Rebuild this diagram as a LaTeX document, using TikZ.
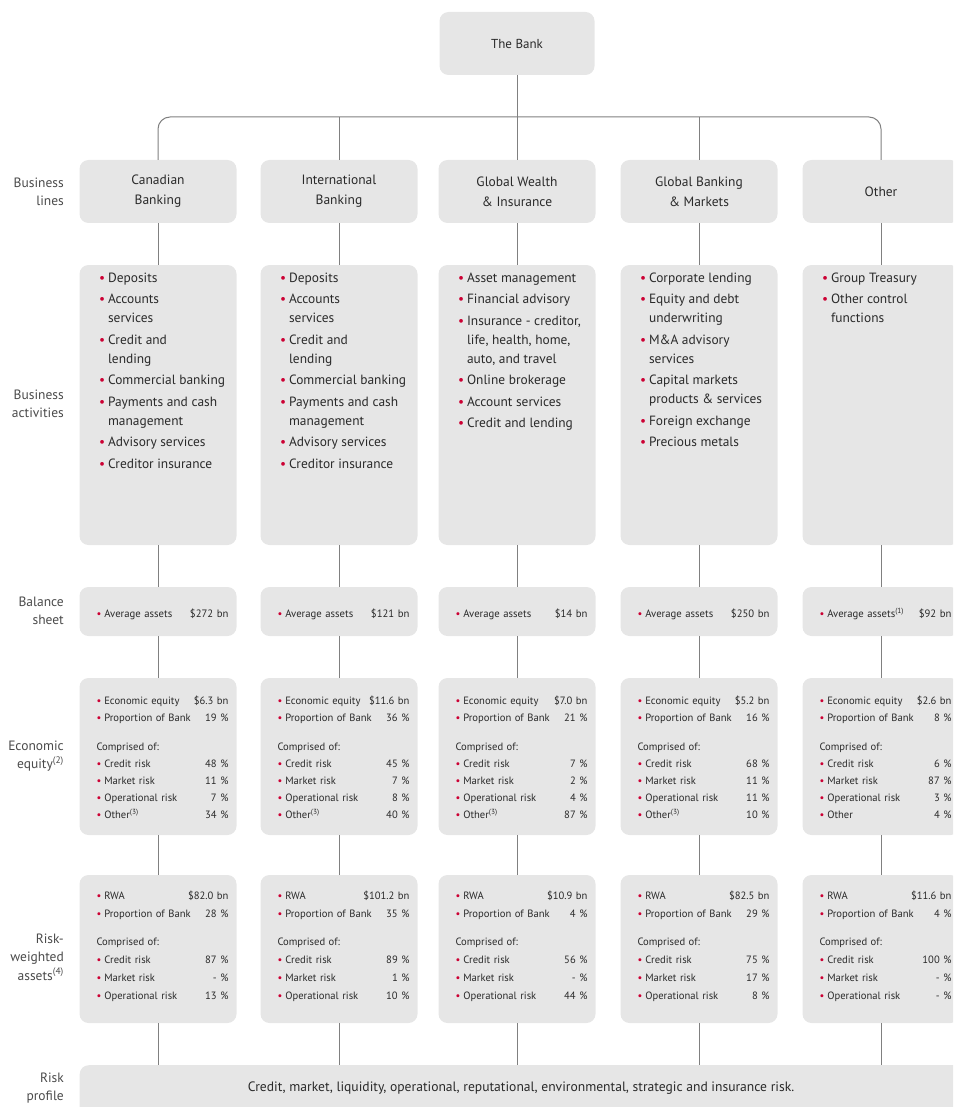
\documentclass[tikz,border=0pt]{standalone}
\usepackage{fontspec}
\setmainfont{PT Sans}
\usetikzlibrary{positioning}
\definecolor{boxgray}{HTML}{E6E6E6}
\definecolor{linegray}{HTML}{808080}
\definecolor{bankred}{HTML}{CC0033}
\definecolor{txtgray}{HTML}{2A2A2A}
\definecolor{lblgray}{HTML}{4A4A4A}
\newcommand{\bul}{{\color{bankred}\textbullet}}
\newcommand{\rw}[2]{\par\hbox to 132pt{\strut\bul\hspace{3pt}#1\hfill#2}}
\newcommand{\cmpof}[1]{\par\vskip#1\hbox{\strut Comprised of:}}
\newcommand{\cbacts}{\begin{tabular}{@{}l@{\hspace{3pt}}l@{}}
  \bul & Deposits\\[2.5pt]
  \bul & Accounts\\ & services\\[2.5pt]
  \bul & Credit and\\ & lending\\[2.5pt]
  \bul & Commercial banking\\[2.5pt]
  \bul & Payments and cash\\ & management\\[2.5pt]
  \bul & Advisory services\\[2.5pt]
  \bul & Creditor insurance
\end{tabular}}
\tikzset{
  gbox/.style={fill=boxgray,rounded corners=9pt,minimum width=157pt,inner sep=0pt,text=txtgray},
  conn/.style={draw=linegray,line width=1pt},
  sidelbl/.style={anchor=east,align=right,inner sep=0pt,text=lblgray,font=\fontsize{13.5}{18.5}\selectfont},
  acttxt/.style={anchor=north west,inner sep=0pt,text=txtgray,font=\fontsize{13.4}{19}\selectfont},
  figtxt/.style={anchor=north west,inner sep=0pt,text=txtgray,text width=132pt}
}
\begin{document}
\begin{tikzpicture}[x=1pt,y=-1pt]
  \useasboundingbox (0,0) rectangle (953,1107);
  \clip (0,0) rectangle (953,1107);
  % the bank and the business lines
  \node[gbox,minimum width=155pt,minimum height=63pt,font=\fontsize{13}{20}\selectfont] (bank) at (517,43.5) {The Bank};
  \foreach \col/\x/\t in {ca/158/Canadian\\Banking, in/339/International\\Banking,
      gw/517/Global Wealth\\\& Insurance, gb/699/Global Banking\\\& Markets, ot/881/Other}
    \node[gbox,minimum height=63pt,align=center,font=\fontsize{13.5}{20}\selectfont] (\col-line) at (\x,191.5) {\t};
  % empty boxes of each column
  \foreach \col/\x in {ca/158,in/339,gw/517,gb/699,ot/881}{
    \node[gbox,minimum height=280pt] (\col-act) at (\x,405) {};
    \node[gbox,minimum height=49pt] (\col-bal) at (\x,611.5) {};
    \node[gbox,minimum height=157pt] (\col-ee) at (\x,756.5) {};
    \node[gbox,minimum height=148pt] (\col-rwa) at (\x,949) {};}
  \node[gbox,anchor=north west,minimum width=890pt,minimum height=60pt] (risk) at (79.5,1065) {};
  \node[text=txtgray,font=\fontsize{13.6}{16}\selectfont] (risk-txt) at (521,1088)
    {Credit, market, liquidity, operational, reputational, environmental, strategic and insurance risk.};
  % business activities
  \node[acttxt] (ca-acttxt) at ([shift={(19.5,4)}]ca-act.north west) {\cbacts};
  \node[acttxt] (in-acttxt) at ([shift={(19.5,4)}]in-act.north west) {\cbacts};
  \node[acttxt] (gw-acttxt) at ([shift={(19.5,4)}]gw-act.north west) {\begin{tabular}{@{}l@{\hspace{3pt}}l@{}}
    \bul & Asset management\\[2.5pt]
    \bul & Financial advisory\\[2.5pt]
    \bul & Insurance - creditor,\\ & life, health, home,\\ & auto, and travel\\[2.5pt]
    \bul & Online brokerage\\[2.5pt]
    \bul & Account services\\[2.5pt]
    \bul & Credit and lending
  \end{tabular}};
  \node[acttxt] (gb-acttxt) at ([shift={(19.5,4)}]gb-act.north west) {\begin{tabular}{@{}l@{\hspace{3pt}}l@{}}
    \bul & Corporate lending\\[2.5pt]
    \bul & Equity and debt\\ & underwriting\\[2.5pt]
    \bul & M\&A advisory\\ & services\\[2.5pt]
    \bul & Capital markets\\ & products \& services\\[2.5pt]
    \bul & Foreign exchange\\[2.5pt]
    \bul & Precious metals
  \end{tabular}};
  \node[acttxt] (ot-acttxt) at ([shift={(19.5,4)}]ot-act.north west) {\begin{tabular}{@{}l@{\hspace{3pt}}l@{}}
    \bul & Group Treasury\\[2.5pt]
    \bul & Other control\\ & functions
  \end{tabular}};
  % balance sheet
  \foreach \col/\lab/\val in {ca/Average assets/272, in/Average assets/121, gw/Average assets/14,
      gb/Average assets/250, ot/Average assets\textsuperscript{(1)}/92}
    \node[figtxt,anchor=center,font=\fontsize{10.7}{17}\selectfont] (\col-baltxt) at ([xshift=4.5pt]\col-bal) {\rw{\lab}{\$\val{} bn}};
  % economic equity
  \foreach \col/\eqy/\pr/\crd/\mkt/\opr/\oth/\othv in {
      ca/6.3/19/48/11/7/Other\textsuperscript{(3)}/34,
      in/11.6/36/45/7/8/Other\textsuperscript{(3)}/40,
      gw/7.0/21/7/2/4/Other\textsuperscript{(3)}/87,
      gb/5.2/16/68/11/11/Other\textsuperscript{(3)}/10,
      ot/2.6/8/6/87/3/Other/4}
    \node[figtxt,font=\fontsize{10.6}{17}\selectfont] (\col-eetxt) at ([shift={(17,9)}]\col-ee.north west)
      {\rw{Economic equity}{\$\eqy{} bn}\rw{Proportion of Bank}{\pr~\%}\cmpof{12pt}%
       \rw{Credit risk}{\crd~\%}\rw{Market risk}{\mkt~\%}\rw{Operational risk}{\opr~\%}\rw{\oth}{\othv~\%}};
  % risk-weighted assets
  \foreach \col/\rwa/\pr/\crd/\mkt/\opr in {ca/82.0/28/87/-/13, in/101.2/35/89/1/10,
      gw/10.9/4/56/-/44, gb/82.5/29/75/17/8, ot/11.6/4/100/-/-}
    \node[figtxt,font=\fontsize{10.6}{18}\selectfont] (\col-rwatxt) at ([shift={(17,6.5)}]\col-rwa.north west)
      {\rw{RWA}{\$\rwa{} bn}\rw{Proportion of Bank}{\pr~\%}\cmpof{10pt}%
       \rw{Credit risk}{\crd~\%}\rw{Market risk}{\mkt~\%}\rw{Operational risk}{\opr~\%}};
  % row labels
  \node[sidelbl] (lbl-line) at (64,192) {Business\\lines};
  \node[sidelbl] (lbl-act) at (64,404) {Business\\activities};
  \node[sidelbl] (lbl-bal) at (64,611) {Balance\\sheet};
  \node[sidelbl] (lbl-ee) at (64,756) {Economic\\equity\textsuperscript{(2)}};
  \node[sidelbl] (lbl-rwa) at (64,957) {Risk-\\weighted\\assets\textsuperscript{(4)}};
  \node[sidelbl] (lbl-risk) at (64,1088) {Risk\\profile};
  % connectors
  \coordinate (bus) at (517,117);
  \draw[conn] (bank) -- (gw-line);
  \draw[conn,rounded corners=12pt] (ca-line.north) |- (bus) -| (ot-line.north);
  \draw[conn] (in-line.north) -- (in-line.north |- bus);
  \draw[conn] (gb-line.north) -- (gb-line.north |- bus);
  \foreach \col in {ca,in,gw,gb,ot}{
    \draw[conn] (\col-line) -- (\col-act);
    \draw[conn] (\col-act) -- (\col-bal);
    \draw[conn] (\col-bal) -- (\col-ee);
    \draw[conn] (\col-ee) -- (\col-rwa);
    \draw[conn] (\col-rwa) -- (\col-rwa |- risk.north);}
\end{tikzpicture}
\end{document}
